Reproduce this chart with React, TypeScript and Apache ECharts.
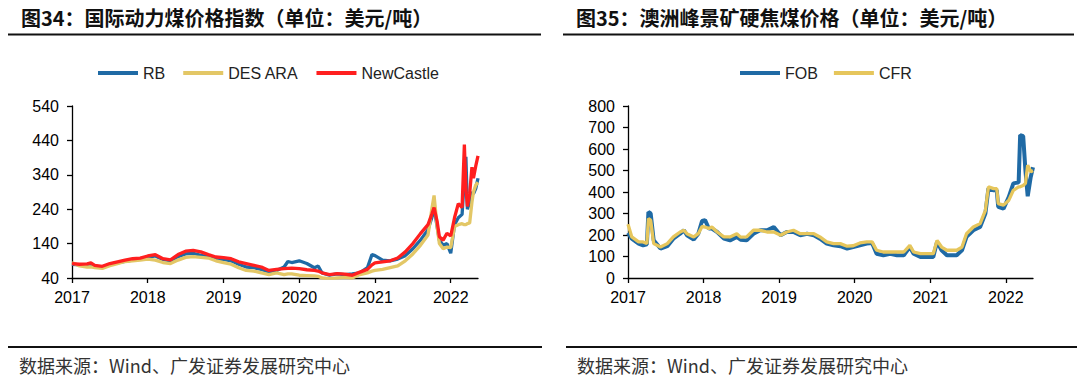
import React, { useEffect, useRef } from "react";
import * as echarts from "echarts";

// ---------- data ----------
const yearTicks = [2017, 2018, 2019, 2020, 2021, 2022];

// Left chart: international thermal coal price indices (USD/t), x = decimal year
const leftDates = [
  2017.0, 2017.1, 2017.2, 2017.25, 2017.3, 2017.4, 2017.5, 2017.6, 2017.7, 2017.8, 2017.9,
  2018.0, 2018.1, 2018.2, 2018.3, 2018.4, 2018.5, 2018.6, 2018.7, 2018.8, 2018.9,
  2019.0, 2019.1, 2019.2, 2019.3, 2019.4, 2019.5, 2019.6, 2019.7, 2019.8, 2019.85, 2019.9,
  2020.0, 2020.1, 2020.2, 2020.25, 2020.3, 2020.4, 2020.5, 2020.6, 2020.7, 2020.8, 2020.9, 2020.96,
  2021.0, 2021.1, 2021.2, 2021.3, 2021.4, 2021.5, 2021.6, 2021.7, 2021.75, 2021.78, 2021.82, 2021.85, 2021.9, 2021.95,
  2022.0, 2022.05, 2022.1, 2022.15, 2022.18, 2022.2, 2022.22, 2022.25, 2022.28, 2022.3, 2022.33, 2022.36,
];
const rbValues = [
  80, 78, 78, 80, 74, 72, 80, 84, 88, 92, 95,
  100, 104, 94, 90, 102, 110, 112, 106, 102, 96,
  94, 90, 80, 72, 70, 65, 58, 62, 72, 88, 85,
  90, 82, 70, 75, 55, 48, 52, 50, 52, 55, 70, 108,
  105, 92, 90, 95, 105, 125, 150, 180, 215, 245, 190, 150, 135, 140,
  112, 195, 215, 225, 330, 392, 240, 260, 290, 285, 300, 330,
];
const desAraValues = [
  85, 75, 72, 72, 70, 68, 76, 82, 88, 90, 92,
  95, 92, 85, 82, 92, 100, 102, 100, 98, 90,
  85, 80, 70, 62, 60, 55, 50, 55, 50, 52, 52,
  48, 47, 46, 45, 40, 38, 40, 42, 40, 50, 55, 60,
  62, 65, 70, 75, 90, 110, 135, 165, 240, 280, 190, 140, 125, 130,
  128, 190, 195, 198, 195, 195, 198, 200, 260, 290, 310, 318,
];
const newcastleValues = [
  82, 80, 81, 84, 77, 74, 82, 87, 92, 96, 98,
  104, 108, 96, 93, 108, 118, 120, 116, 108, 101,
  99, 96, 87, 82, 77, 72, 62, 65, 67, 68, 69,
  67, 64, 62, 60, 55, 50, 53, 51, 48, 57, 65, 78,
  84, 87, 90, 98, 116, 140, 169, 195, 225, 245, 205, 160, 150, 170,
  162, 215, 256, 245, 428, 300, 248, 285, 362, 330, 365, 395,
];

// Right chart: Peak Downs hard coking coal (USD/t)
const rightDates = [
  2017.0, 2017.05, 2017.14, 2017.2, 2017.25, 2017.27, 2017.3, 2017.34, 2017.43, 2017.52, 2017.6, 2017.69, 2017.74, 2017.78, 2017.87, 2017.93, 2017.98,
  2018.02, 2018.07, 2018.11, 2018.18, 2018.27, 2018.35, 2018.44, 2018.49, 2018.57, 2018.66, 2018.75, 2018.84, 2018.93,
  2019.02, 2019.1, 2019.19, 2019.28, 2019.37, 2019.46, 2019.54, 2019.63, 2019.72, 2019.81, 2019.9, 2019.98,
  2020.07, 2020.16, 2020.23, 2020.29, 2020.38, 2020.47, 2020.56, 2020.65, 2020.73, 2020.78, 2020.87, 2020.95,
  2021.04, 2021.09, 2021.15, 2021.22, 2021.35, 2021.42, 2021.48, 2021.57, 2021.66, 2021.73, 2021.77, 2021.84, 2021.88, 2021.9, 2021.97,
  2022.04, 2022.1, 2022.17, 2022.19, 2022.23, 2022.26, 2022.29, 2022.33, 2022.36,
];
const fobValues = [
  210, 183, 160, 152, 157, 307, 300, 175, 137, 148, 183, 206, 222, 199, 179, 206, 265,
  269, 230, 230, 214, 183, 175, 191, 178, 175, 206, 222, 222, 237,
  199, 214, 214, 199, 206, 199, 183, 160, 152, 148, 137, 144,
  152, 160, 163, 113, 106, 113, 106, 106, 144, 113, 98, 98,
  98, 168, 129, 106, 106, 129, 191, 222, 237, 300, 416, 408, 408, 331, 323,
  377, 440, 445, 665, 660, 500, 380, 470, 515,
];
const cfrValues = [
  250, 191, 168, 168, 160, 276, 269, 160, 144, 160, 191, 214, 222, 206, 191, 206, 240,
  237, 230, 237, 214, 191, 191, 206, 190, 191, 222, 222, 214, 214,
  199, 214, 222, 206, 206, 206, 191, 168, 160, 160, 148, 150,
  163, 168, 168, 129, 121, 121, 121, 121, 152, 121, 113, 113,
  113, 175, 144, 129, 129, 144, 206, 237, 253, 315, 424, 416, 416, 346, 339,
  362, 408, 424, 424, 430, 440, 525, 494, 500,
];

const leftTitle = "图34：国际动力煤价格指数（单位：美元/吨）";
const rightTitle = "图35：澳洲峰景矿硬焦煤价格（单位：美元/吨）";
const sourceNote = "数据来源：Wind、广发证券发展研究中心";

// ---------- helpers ----------
const pairs = (xs: number[], ys: number[]) => xs.map((x, i) => [x, ys[i]]);
const LATIN = '"Liberation Sans", Arial, sans-serif';
const CJK = '"Noto Sans CJK SC", sans-serif';

const xAxisFor = (gridIndex: number) => ({
  type: "value",
  gridIndex,
  min: 2017,
  max: 2022.36,
  interval: 1,
  splitLine: { show: false },
  axisLine: { show: true, lineStyle: { color: "#000", width: 1.3 } },
  axisTick: { show: true, length: 5, inside: false, customValues: yearTicks, lineStyle: { color: "#000", width: 1.3 } },
  axisLabel: {
    customValues: yearTicks,
    fontSize: 16,
    fontFamily: LATIN,
    color: "#000",
    margin: 11,
    formatter: (v: number) => String(Math.round(v)),
  },
});

const yAxisFor = (gridIndex: number, min: number, max: number) => ({
  type: "value",
  gridIndex,
  min,
  max,
  interval: 100,
  splitLine: { show: false },
  axisLine: { show: true, lineStyle: { color: "#000", width: 1.3 } },
  axisTick: { show: true, length: 5, lineStyle: { color: "#000", width: 1.3 } },
  axisLabel: { fontSize: 16, fontFamily: LATIN, color: "#000", margin: 13 },
});

const lineSeries = (name: string, xi: number, data: number[][], color: string, width = 3.3) => ({
  name,
  type: "line",
  xAxisIndex: xi,
  yAxisIndex: xi,
  data,
  showSymbol: false,
  symbol: "none",
  lineStyle: { color, width },
  itemStyle: { color },
});

export default function App() {
  const ref = useRef<HTMLDivElement>(null);

  useEffect(() => {
    if (!ref.current) return;
    const chart = echarts.init(ref.current, null, { renderer: "svg" });
    const option = {
      animation: false,
      backgroundColor: "#ffffff",
      grid: [
        { left: 72, top: 106, width: 406, height: 172 },
        { left: 628, top: 106, width: 405, height: 172 },
      ],
      legend: [
        {
          data: ["RB", "DES ARA", "NewCastle"],
          left: 93,
          top: 60,
          icon: "rect",
          itemWidth: 40,
          itemHeight: 4,
          itemGap: 18,
          textStyle: { fontSize: 16, fontFamily: LATIN, color: "#222" },
        },
        {
          data: ["FOB", "CFR"],
          left: 735,
          top: 60,
          icon: "rect",
          itemWidth: 40,
          itemHeight: 4,
          itemGap: 16,
          textStyle: { fontSize: 16, fontFamily: LATIN, color: "#222" },
        },
      ],
      xAxis: [xAxisFor(0), xAxisFor(1)],
      yAxis: [yAxisFor(0, 40, 540), yAxisFor(1, 0, 800)],
      series: [
        lineSeries("RB", 0, pairs(leftDates, rbValues), "#1f6aa5"),
        lineSeries("DES ARA", 0, pairs(leftDates, desAraValues), "#e3c766"),
        lineSeries("NewCastle", 0, pairs(leftDates, newcastleValues), "#ff1f1f"),
        lineSeries("FOB", 1, pairs(rightDates, fobValues), "#1f6aa5", 4),
        lineSeries("CFR", 1, pairs(rightDates, cfrValues), "#e6c65c"),
      ],
      graphic: [
        {
          type: "text",
          x: 21,
          y: 17,
          style: { text: leftTitle, fontSize: 20, fontWeight: "bold", fontFamily: CJK, fill: "#111", verticalAlign: "middle" },
        },
        {
          type: "text",
          x: 576,
          y: 17,
          style: { text: rightTitle, fontSize: 20, fontWeight: "bold", fontFamily: CJK, fill: "#111", verticalAlign: "middle" },
        },
        { type: "line", shape: { x1: 8, y1: 34.5, x2: 541, y2: 34.5 }, style: { stroke: "#111", lineWidth: 2 } },
        { type: "line", shape: { x1: 563, y1: 34.5, x2: 1074, y2: 34.5 }, style: { stroke: "#111", lineWidth: 2 } },
        { type: "line", shape: { x1: 8, y1: 347, x2: 542, y2: 347 }, style: { stroke: "#111", lineWidth: 2 } },
        { type: "line", shape: { x1: 566, y1: 347, x2: 1077, y2: 347 }, style: { stroke: "#111", lineWidth: 2 } },
        {
          type: "text",
          x: 19,
          y: 365,
          style: { text: sourceNote, fontSize: 18, fontFamily: CJK, fill: "#333", verticalAlign: "middle" },
        },
        {
          type: "text",
          x: 577,
          y: 365,
          style: { text: sourceNote, fontSize: 18, fontFamily: CJK, fill: "#333", verticalAlign: "middle" },
        },
      ],
    };
    chart.setOption(option as any);
    return () => chart.dispose();
  }, []);

  return (
    <div
      ref={ref}
      style={{ position: "fixed", left: 0, top: 0, width: 1080, height: 381, background: "#fff" }}
    />
  );
}
